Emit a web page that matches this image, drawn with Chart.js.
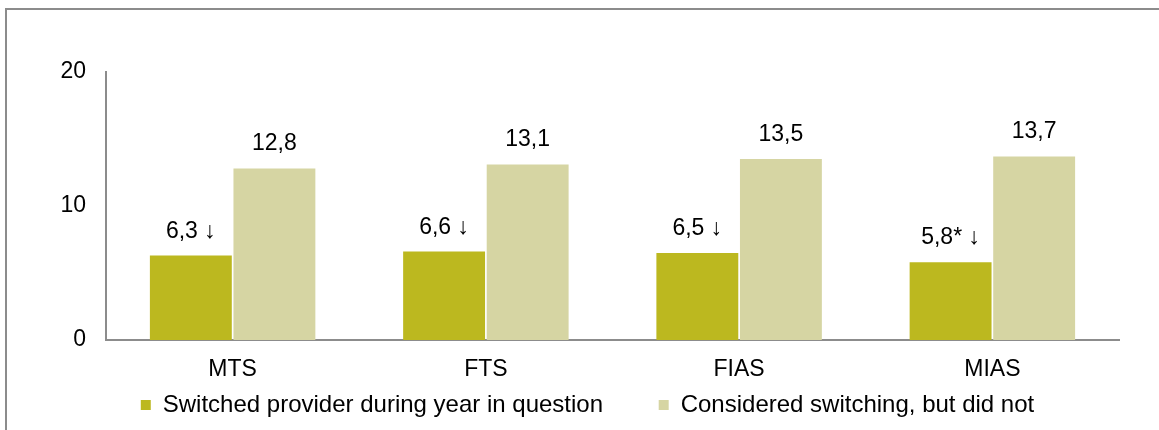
<!DOCTYPE html>
<html>
<head>
<meta charset="utf-8">
<script src="https://cdn.jsdelivr.net/npm/chart.js@4/dist/chart.umd.min.js"></script>
<style>
    html, body { margin: 0; padding: 0; background: #fff; }
    #wrap { position: relative; width: 1159px; height: 430px; overflow: hidden; }
    #frame { position: absolute; left: 5px; top: 8px; width: 1200px; height: 500px;
             border-left: 2px solid #8c8c8c; border-top: 2px solid #8c8c8c; }
    #chart { position: absolute; left: 0; top: 0; }
</style>
</head>
<body>
<div id="wrap">
    <div id="frame"></div>
    <canvas id="chart" width="1159" height="430"></canvas>
</div>
<script>
// values
const categories = ["MTS", "FTS", "FIAS", "MIAS"];
const switchedValues = [6.3, 6.6, 6.5, 5.8];
const consideredValues = [12.8, 13.1, 13.5, 13.7];
const switchedNotes = [" ↓", " ↓", " ↓", "* ↓"];
const consideredNotes = ["", "", "", ""];
const yTicks = [0, 10, 20];
const seriesNames = ["Switched provider during year in question", "Considered switching, but did not"];

const fontFamily = "'Liberation Sans', Arial, sans-serif";

function fmt(v) {
    return v.toFixed(1).replace(".", ",");
}

// numbers above the bars
const valueLabels = {
    id: "valueLabels",
    afterDatasetsDraw(chart) {
        const ctx = chart.ctx;
        ctx.save();
        ctx.font = "23px " + fontFamily;
        ctx.fillStyle = "#000";
        ctx.textAlign = "center";
        ctx.textBaseline = "alphabetic";
        chart.data.datasets.forEach((ds, i) => {
            const meta = chart.getDatasetMeta(i);
            meta.data.forEach((bar, j) => {
                ctx.fillText(fmt(ds.data[j]) + ds.notes[j], bar.x, bar.y - 18);
            });
        });
        ctx.restore();
    }
};

new Chart(document.getElementById("chart"), {
    type: "bar",
    data: {
        labels: categories,
        datasets: [{
            // trailing spaces widen the gap to the second legend item
            label: seriesNames[0] + "       ",
            data: switchedValues,
            notes: switchedNotes,
            backgroundColor: "#bcb81f"
        }, {
            label: seriesNames[1],
            data: consideredValues,
            notes: consideredNotes,
            backgroundColor: "#d6d5a3"
        }]
    },
    options: {
        responsive: false,
        animation: false,
        categoryPercentage: 0.66,
        barPercentage: 0.98,
        layout: {
            padding: { left: 56, right: 40, top: 72, bottom: 3 }
        },
        plugins: {
            tooltip: { enabled: false },
            legend: {
                position: "bottom",
                align: "center",
                labels: {
                    boxWidth: 10,
                    boxHeight: 10,
                    padding: 9,
                    color: "#000",
                    font: { size: 24, family: fontFamily }
                }
            }
        },
        scales: {
            x: {
                grid: { display: false, drawTicks: false },
                border: { display: true, color: "#8c8c8c", width: 2 },
                ticks: {
                    padding: 16,
                    color: "#000",
                    font: { size: 23, family: fontFamily }
                },
                afterFit: (scale) => { scale.height = 44; }
            },
            y: {
                min: yTicks[0],
                max: yTicks[yTicks.length - 1],
                grid: { display: false, drawTicks: false },
                border: { display: true, color: "#8c8c8c", width: 2 },
                afterBuildTicks: (scale) => { scale.ticks = yTicks.map(v => ({ value: v })); },
                ticks: {
                    padding: 20,
                    color: "#000",
                    font: { size: 23, family: fontFamily }
                },
                afterFit: (scale) => { scale.width = 50; }
            }
        }
    },
    plugins: [valueLabels]
});
</script>
</body>
</html>
